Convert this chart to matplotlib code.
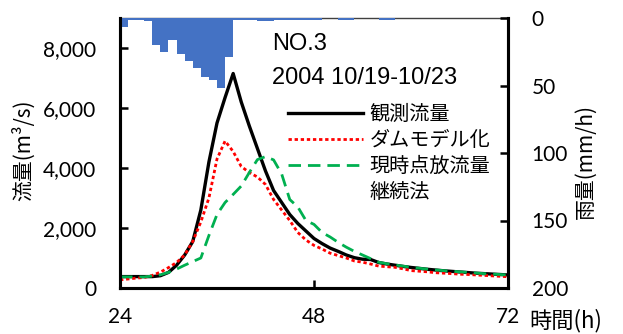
import matplotlib
matplotlib.use("Agg")
import matplotlib.pyplot as plt
from matplotlib.lines import Line2D
from matplotlib.ticker import FuncFormatter

# hourly data, 2004 10/19-10/23 (NO.3)
hours = list(range(24, 73))
observed = [380, 380, 380, 380, 380, 410, 520, 760, 1100, 1550,
            2600, 4200, 5500, 6350, 7150, 6200, 5400, 4650, 3900, 3250,
            2850, 2450, 2150, 1900, 1650, 1480, 1330, 1220, 1100, 1010,
            960, 950, 850, 800, 760, 720, 685, 655, 625, 600,
            575, 555, 535, 515, 495, 480, 465, 450, 435]
dam_model = [270, 300, 330, 350, 420, 530, 680, 850, 1100, 1550,
             2200, 3000, 4300, 4900, 4550, 4050, 3850, 3700, 3450, 2950,
             2600, 2250, 1850, 1600, 1420, 1300, 1160, 1080, 1000, 900,
             860, 800, 730, 710, 690, 640, 580, 560, 540, 510,
             495, 480, 460, 450, 435, 420, 405, 390, 375]
release_cont = [370, 370, 370, 370, 400, 440, 520, 630, 760, 880,
                1000, 1750, 2450, 2850, 3120, 3400, 3850, 4280, 4380, 4270,
                3800, 2950, 2700, 2250, 2120, 1850, 1700, 1520, 1360, 1220,
                1100, 980, 860, 810, 770, 730, 690, 660, 630, 605,
                580, 560, 540, 520, 500, 480, 465, 450, 435]

rain_hours = list(range(24, 72))
rain = [7, 1.5, 1.5, 2.5, 20, 25, 16, 27, 32, 37,
        44, 46, 52, 29, 1.5, 1.5, 1.5, 2.5, 2.5, 1.5,
        1.5, 1.5, 1.5, 1.5, 1.5, 0, 0, 1.5, 1.5, 0,
        0, 0, 1.5, 1.5, 0, 0, 0, 0, 0, 0,
        0, 0, 0, 0, 0, 0, 0, 0]

labels = ['観測流量', 'ダムモデル化', '現時点放流量', '継続法']

jp = ['Noto Sans CJK JP', 'DejaVu Sans']
num = ['Lato', 'DejaVu Sans']

fig = plt.figure(figsize=(6.23, 3.34), dpi=100)
ax = fig.add_axes([120 / 623, 46 / 334, 388 / 623, 270 / 334])
ax2 = ax.twinx()

# rainfall bars hanging from the top
ax2.bar(rain_hours, rain, width=1.0, align='edge', color='#4472C4', linewidth=0, zorder=3)
ax2.set_ylim(200, 0)
ax2.set_yticks([0, 50, 100, 150, 200])

ax.set_zorder(ax2.get_zorder() + 1)
ax.patch.set_visible(False)

l1, = ax.plot(hours, observed, color='black', lw=2.4)
l2, = ax.plot(hours, dam_model, color='#FF0000', lw=2.0, linestyle=(0, (1.2, 1.0)))
l3, = ax.plot(hours, release_cont, color='#00B050', lw=2.0, linestyle=(0, (4.5, 2.5)))

ax.set_xlim(24, 72)
ax.set_ylim(0, 9000)
ax.set_xticks([24, 48, 72])
ax.set_yticks([0, 2000, 4000, 6000, 8000])
ax.yaxis.set_major_formatter(FuncFormatter(lambda v, p: f'{int(v):,}'))

for a in (ax, ax2):
    for s in ('left', 'right', 'bottom'):
        a.spines[s].set_linewidth(2.2)
        a.spines[s].set_color('black')
ax.spines['top'].set_visible(False)
ax2.spines['top'].set_linewidth(1.0)
ax2.spines['top'].set_color('#404040')
ax2.spines['top'].set_zorder(1)

ax.tick_params(axis='both', direction='in', length=6, width=1.8, labelsize=15)
ax.tick_params(axis='y', pad=17)
ax.tick_params(axis='x', pad=14)
ax2.tick_params(axis='y', direction='in', length=6, width=1.8, labelsize=15, pad=17)
for t in ax.get_xticklabels() + ax.get_yticklabels() + ax2.get_yticklabels():
    t.set_fontfamily(num)

ax.set_ylabel('流量(m³/s)', fontsize=15, family=jp)
ax.yaxis.set_label_coords(-0.219, 0.51)
ax2.set_ylabel('雨量(mm/h)', fontsize=15, family=jp, rotation=90)
ax2.yaxis.set_label_coords(1.173, 0.47)

fig.text(529 / 623, 1 - 321 / 334, '時間(h)', fontsize=16, family=jp, ha='left', va='center')

fig.text(272 / 623, 1 - 44 / 334, 'NO.3', fontsize=17, family='Liberation Sans', ha='left', va='center')
fig.text(272 / 623, 1 - 78 / 334, '2004 10/19-10/23', fontsize=17, family='Liberation Sans',
         ha='left', va='center')

blank = Line2D([], [], color='none')
leg = ax.legend([l1, l2, l3, blank], labels, loc='upper left',
                bbox_to_anchor=(288 / 623, 1 - 104 / 334), bbox_transform=fig.transFigure,
                frameon=False, borderpad=0, borderaxespad=0, handlelength=3.7,
                handletextpad=0.35, labelspacing=0.25, prop={'family': jp, 'size': 14.5})

fig.savefig('out.png', dpi=100)
